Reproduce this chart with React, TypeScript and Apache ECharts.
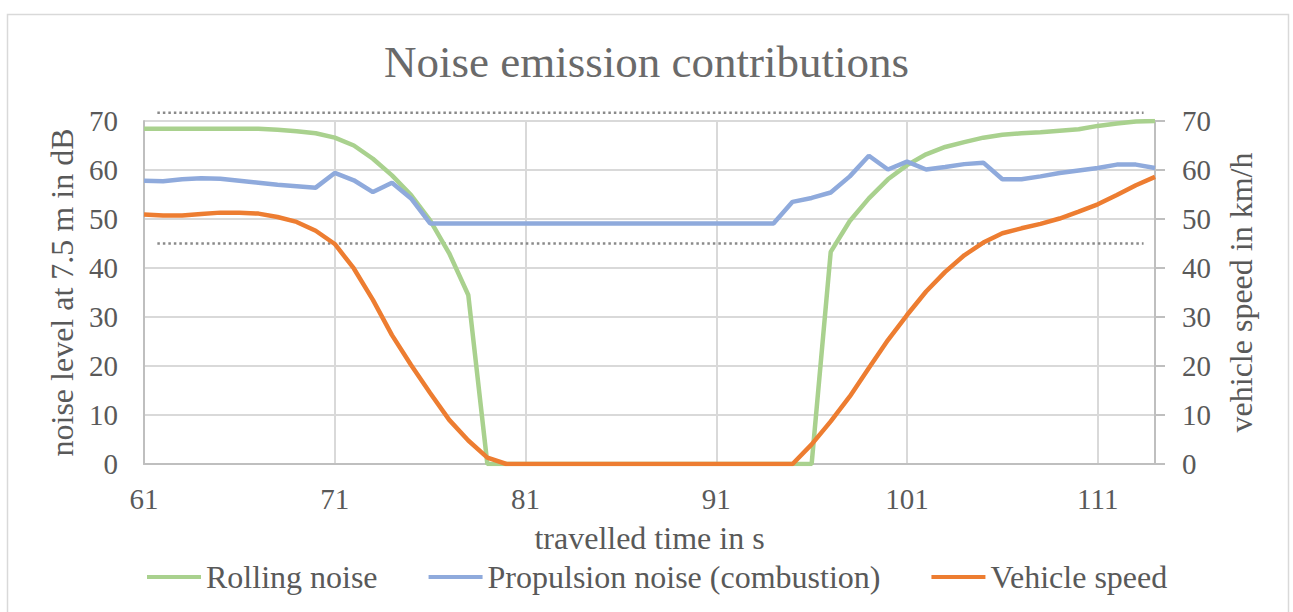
import React, { useEffect, useRef } from "react";
import * as echarts from "echarts";

const times = [
  61, 62, 63, 64, 65, 66, 67, 68, 69, 70, 71, 72, 73, 74, 75, 76, 77, 78, 79, 80,
  81, 82, 83, 84, 85, 86, 87, 88, 89, 90, 91, 92, 93, 94, 95, 96, 97, 98, 99, 100,
  101, 102, 103, 104, 105, 106, 107, 108, 109, 110, 111, 112, 113, 114,
];

const rollingNoise = [
  68.4, 68.4, 68.4, 68.4, 68.4, 68.4, 68.4, 68.2, 67.9, 67.5, 66.6, 65.0, 62.3, 58.9, 54.9, 49.7, 43.0, 34.5,
  0, 0, 0, 0, 0, 0, 0, 0, 0, 0, 0, 0, 0, 0, 0, 0, 0, 0,
  43.3, 49.6, 54.2, 58.1, 61.0, 63.2, 64.7, 65.7, 66.6, 67.2, 67.5, 67.7, 68.0, 68.3, 69.0, 69.5, 69.9, 70.0,
];

const propulsionNoise = [
  57.8, 57.7, 58.1, 58.3, 58.2, 57.8, 57.4, 57.0, 56.7, 56.4, 59.4, 57.9, 55.5, 57.4, 54.2,
  49.1, 49.1, 49.1, 49.1, 49.1, 49.1, 49.1, 49.1, 49.1, 49.1, 49.1, 49.1, 49.1, 49.1, 49.1, 49.1, 49.1, 49.1, 49.1,
  53.5, 54.3, 55.4, 58.7, 62.9, 60.1, 61.7, 60.1, 60.6, 61.2, 61.5, 58.1, 58.1, 58.7, 59.4, 59.9, 60.4, 61.1, 61.1, 60.4,
];

const vehicleSpeed = [
  50.9, 50.7, 50.7, 51.0, 51.3, 51.3, 51.1, 50.4, 49.4, 47.6, 44.9, 39.9, 33.5, 26.3, 20.2, 14.5, 9.0, 4.8, 1.3,
  0, 0, 0, 0, 0, 0, 0, 0, 0, 0, 0, 0, 0, 0, 0, 0,
  4.0, 8.7, 13.8, 19.6, 25.3, 30.4, 35.2, 39.2, 42.6, 45.2, 47.1, 48.1, 49.0, 50.1, 51.5, 53.0, 54.9, 56.9, 58.6,
];

const limitSpan = [61.7, 113.4];
const upperLimit = 71.7;
const lowerLimit = 45;

const yTicks = { min: 0, max: 70, interval: 10 };

const FONT = "'Liberation Serif', 'Times New Roman', serif";
const TEXT = "#595959";

export default function App() {
  const ref = useRef<HTMLDivElement>(null);

  useEffect(() => {
    if (!ref.current) return;
    const chart = echarts.init(ref.current, undefined, { renderer: "svg" });
    const cats = times.map(String);
    const dotted = (y: number) => ({
      type: "line",
      xAxisIndex: 1,
      yAxisIndex: 0,
      data: limitSpan.map((x) => [x, y]),
      symbol: "none",
      clip: false,
      silent: true,
      lineStyle: { color: "#8a8a8a", width: 2.5, type: [2.5, 3] },
      z: 1,
    });
    chart.setOption({
      animation: false,
      textStyle: { fontFamily: FONT },
      title: {
        text: "Noise emission contributions",
        left: "center",
        top: 34,
        textStyle: { fontFamily: FONT, fontSize: 45, fontWeight: "normal", color: "#6a6a6a" },
      },
      graphic: [
        {
          type: "rect",
          silent: true,
          z: -10,
          shape: { x: 7.5, y: 14.5, width: 1281, height: 700 },
          style: { fill: "none", stroke: "#d9d9d9", lineWidth: 1.5 },
        },
      ],
      legend: {
        data: ["Rolling noise", "Propulsion noise (combustion)", "Vehicle speed"],
        left: 142,
        top: 556,
        icon: "rect",
        itemWidth: 54,
        itemHeight: 4,
        itemGap: 51,
        textStyle: { fontFamily: FONT, fontSize: 32, color: TEXT },
      },
      grid: { left: 144, top: 121, right: 138, bottom: 148 },
      xAxis: [
        {
          type: "category",
          data: cats,
          boundaryGap: false,
          name: "travelled time in s",
          nameLocation: "middle",
          nameGap: 58,
          nameTextStyle: { fontFamily: FONT, fontSize: 32, color: TEXT },
          axisLine: { show: true, lineStyle: { color: "#bfbfbf", width: 2 } },
          axisTick: { show: false },
          axisLabel: { interval: 9, margin: 20, fontFamily: FONT, fontSize: 29, color: TEXT },
          splitLine: { show: true, interval: 9, lineStyle: { color: "#d9d9d9", width: 2 } },
        },
        {
          type: "value",
          min: 61,
          max: 114,
          show: false,
          splitLine: { show: false },
        },
      ],
      yAxis: [
        {
          type: "value",
          min: yTicks.min,
          max: yTicks.max,
          interval: yTicks.interval,
          position: "left",
          name: "noise level at 7.5 m in dB",
          nameLocation: "middle",
          nameRotate: 90,
          nameGap: 62,
          nameTextStyle: { fontFamily: FONT, fontSize: 32, color: TEXT },
          axisLine: { show: true, lineStyle: { color: "#bfbfbf", width: 2 } },
          axisTick: { show: false },
          axisLabel: { margin: 26, fontFamily: FONT, fontSize: 29, color: TEXT },
          splitLine: { show: true, lineStyle: { color: "#d9d9d9", width: 2 } },
        },
        {
          type: "value",
          min: yTicks.min,
          max: yTicks.max,
          interval: yTicks.interval,
          position: "right",
          name: "vehicle speed in km/h",
          nameLocation: "middle",
          nameRotate: 90,
          nameGap: 70,
          nameTextStyle: { fontFamily: FONT, fontSize: 32, color: TEXT },
          axisLine: { show: true, lineStyle: { color: "#bfbfbf", width: 2 } },
          axisTick: { show: true, inside: false, length: 10, lineStyle: { color: "#bfbfbf", width: 2 } },
          axisLabel: { margin: 27, fontFamily: FONT, fontSize: 29, color: TEXT },
          splitLine: { show: false },
        },
      ],
      series: [
        dotted(upperLimit),
        dotted(lowerLimit),
        {
          name: "Rolling noise",
          type: "line",
          data: rollingNoise,
          xAxisIndex: 0,
          yAxisIndex: 0,
          symbol: "none",
          lineStyle: { color: "#A9D18E", width: 4.5 },
          itemStyle: { color: "#A9D18E" },
          z: 3,
        },
        {
          name: "Propulsion noise (combustion)",
          type: "line",
          data: propulsionNoise,
          xAxisIndex: 0,
          yAxisIndex: 0,
          symbol: "none",
          lineStyle: { color: "#8FAADC", width: 4.5 },
          itemStyle: { color: "#8FAADC" },
          z: 4,
        },
        {
          name: "Vehicle speed",
          type: "line",
          data: vehicleSpeed,
          xAxisIndex: 0,
          yAxisIndex: 1,
          symbol: "none",
          lineStyle: { color: "#ED7D31", width: 4.5 },
          itemStyle: { color: "#ED7D31" },
          z: 5,
        },
      ],
    });
    return () => chart.dispose();
  }, []);

  return (
    <div
      ref={ref}
      style={{ position: "absolute", left: 0, top: 0, width: 1293, height: 612, background: "#fff" }}
    />
  );
}
